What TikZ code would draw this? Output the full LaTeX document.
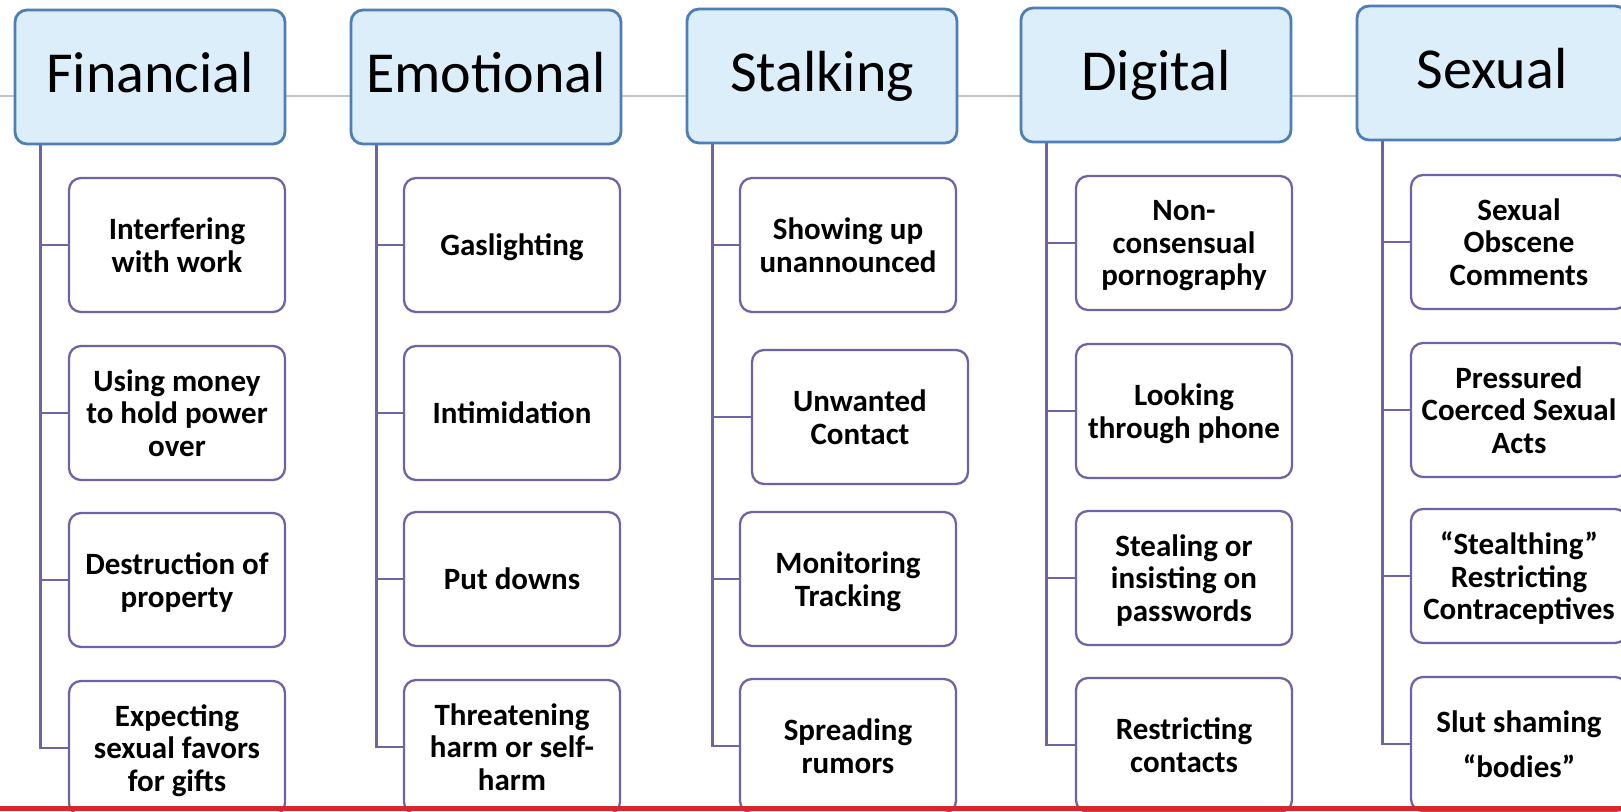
\documentclass[tikz,border=0pt]{standalone}
\usepackage{fontspec}
\setmainfont{Carlito}

\definecolor{headfill}{HTML}{DCEEF9}
\definecolor{headline}{HTML}{4F7DB5}
\definecolor{itemline}{HTML}{6F63A6}
\definecolor{railgray}{HTML}{C4C4C4}
\definecolor{footred}{HTML}{D9262E}

\begin{document}
\begin{tikzpicture}[x=1pt,y=-1pt,
    head/.style={draw=headline,line width=2.8pt,fill=headfill,rounded corners=12pt,
      minimum width=270pt,minimum height=134pt,inner sep=0pt,
      text height=42pt,text depth=12pt,font=\fontsize{58}{60}\selectfont},
    item/.style={draw=itemline,line width=2.3pt,fill=white,rounded corners=12pt,
      minimum width=216pt,minimum height=134pt,inner sep=0pt,align=center,
      text depth=0pt,font=\fontsize{31}{32.5}\selectfont\bfseries},
    branch/.style={itemline,line width=2.3pt}]
    \useasboundingbox (0,0) rectangle (1621,811);
    \clip (0,0) rectangle (1621,811);
    % grey rail behind the headers
    \draw[railgray,line width=1.6pt] (0,96)--(1621,96);
    \foreach \n/\x/\y/\lab in {fin/150/77/Financial,emo/486/77/Emotional,
      stk/822/76/Stalking,dig/1156/75/Digital,sex/1492/73/Sexual}{
      \node[head] (\n) at (\x,\y) {\lab};
    }
    % boxes hanging under each header
    \foreach \n/\k/\x/\y/\lab in {
      fin/1/177/245/{Interfering\\with work},
      fin/2/177/413/{Using money\\to hold power\\over},
      fin/3/177/580/{Destruction of\\property},
      fin/4/177/748/{Expecting\\sexual favors\\for gifts},
      emo/1/512/245/{Gaslighting},
      emo/2/512/413/{Intimidation},
      emo/3/512/579/{Put downs},
      emo/4/512/747/{Threatening\\harm or self-\\harm},
      stk/1/848/245/{Showing up\\unannounced},
      stk/2/860/417/{Unwanted\\Contact},
      stk/3/848/579/{Monitoring\\Tracking},
      stk/4/848/746/{Spreading\\rumors},
      dig/1/1184/243/{Non-\\consensual\\pornography},
      dig/2/1184/411/{Looking\\through phone},
      dig/3/1184/578/{Stealing or\\insisting on\\passwords},
      dig/4/1184/745/{Restricting\\contacts},
      sex/1/1519/242/{Sexual\\Obscene\\Comments},
      sex/2/1519/410/{Pressured\\Coerced Sexual\\Acts},
      sex/3/1519/576/{“Stealthing”\\Restricting\\Contraceptives},
      sex/4/1519/744/{Slut shaming\\[12pt]“bodies”}}{
      \node[item] (\n\k) at (\x,\y) {\lab};
      \draw[branch] ([xshift=27pt]\n.south west) |- (\n\k.west);
    }
    \fill[footred] (0,806) rectangle (1621,811);
\end{tikzpicture}
\end{document}
